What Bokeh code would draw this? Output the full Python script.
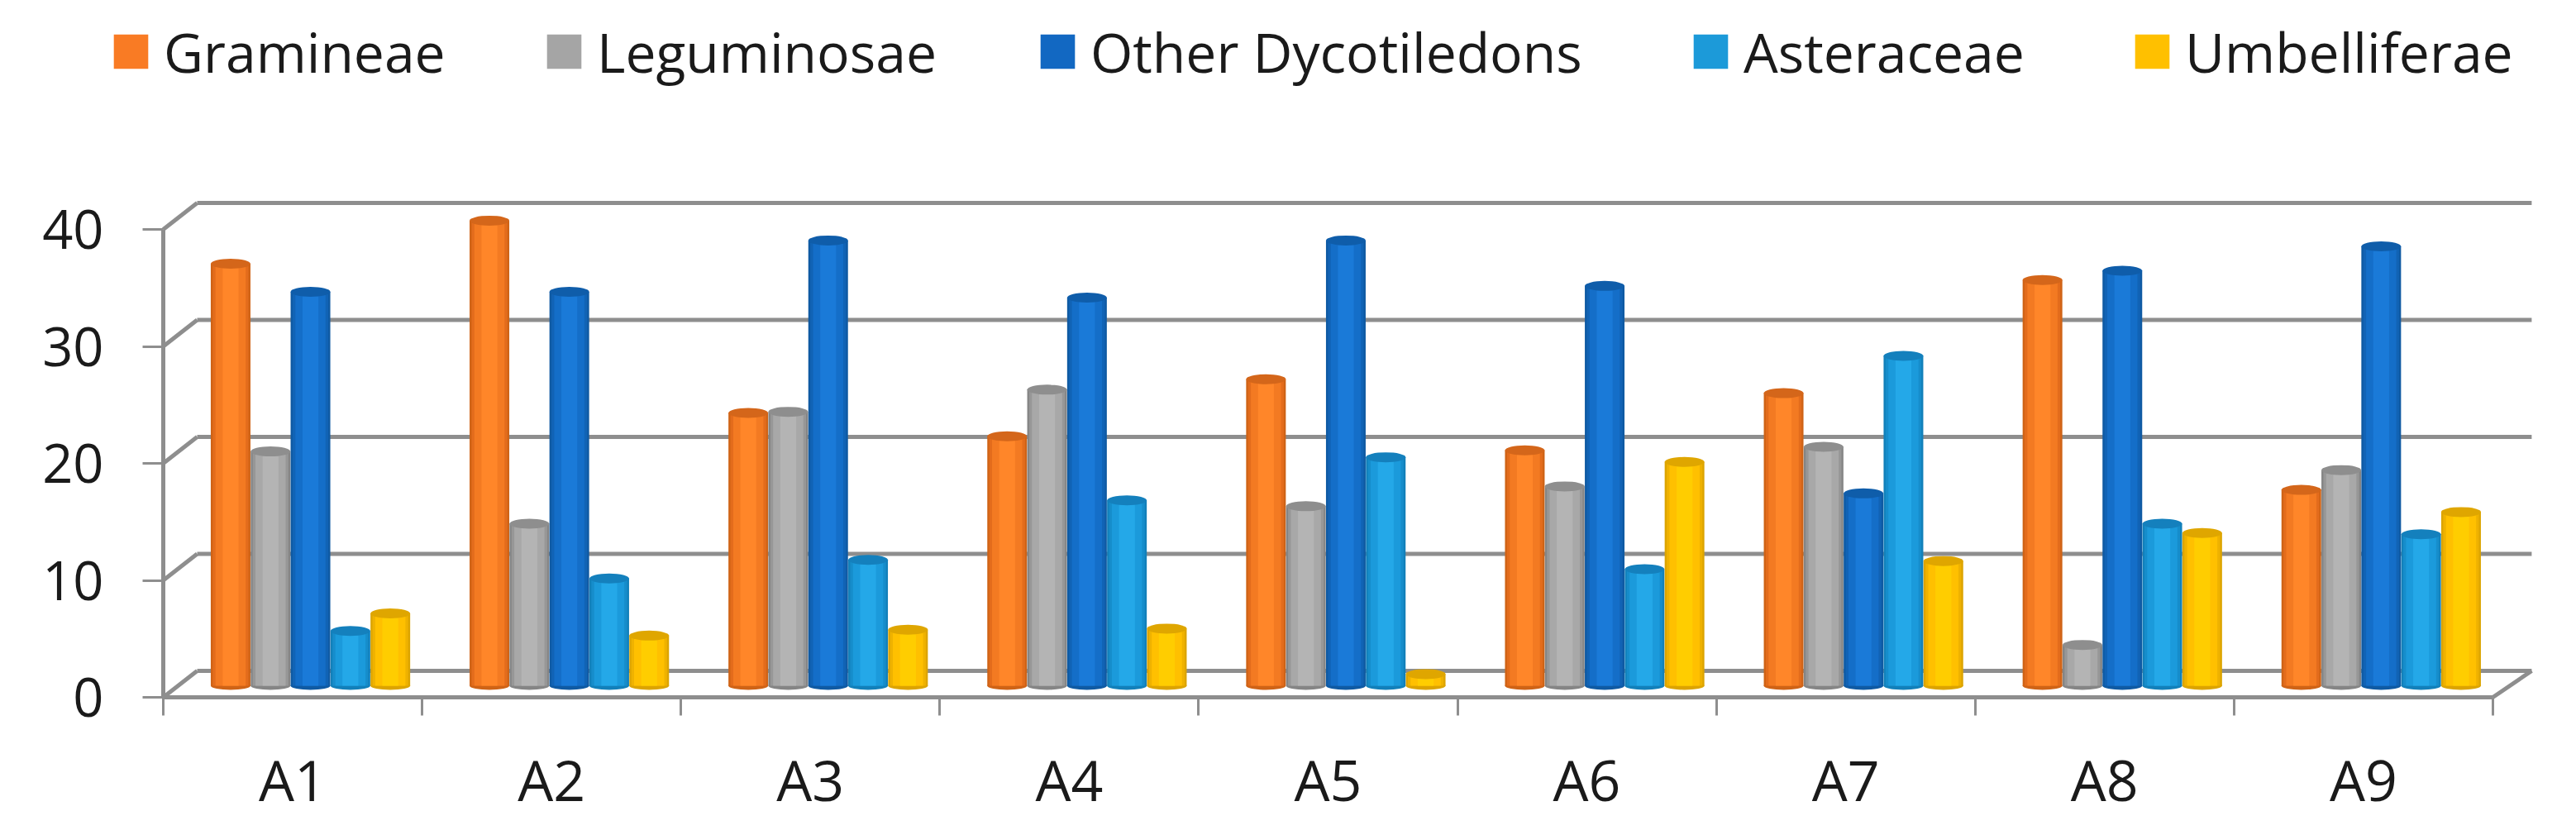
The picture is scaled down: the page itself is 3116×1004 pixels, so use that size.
from bokeh.plotting import figure
from bokeh.models import Range1d, FixedTicker, Legend, LegendItem
from bokeh.embed import file_html
from bokeh.resources import INLINE

categories = ["A1", "A2", "A3", "A4", "A5", "A6", "A7", "A8", "A9"]
gramineae = [36.2, 39.9, 23.4, 21.4, 26.3, 20.2, 25.1, 34.8, 16.8]
leguminosae = [20.1, 13.9, 23.5, 25.4, 15.4, 17.1, 20.5, 3.5, 18.5]
other_dyco = [33.8, 33.8, 38.2, 33.3, 38.2, 34.3, 16.5, 35.6, 37.7]
asteraceae = [4.7, 9.2, 10.8, 15.9, 19.6, 10.0, 28.3, 13.9, 13.0]
umbelliferae = [6.2, 4.3, 4.8, 4.9, 1.0, 19.2, 10.7, 13.1, 14.9]
series_names = ["Gramineae", "Leguminosae", "Other Dycotiledons", "Asteraceae", "Umbelliferae"]
series_values = [gramineae, leguminosae, other_dyco, asteraceae, umbelliferae]
y_ticks = [0, 10, 20, 30, 40]

# edge, soft edge, mid, centre, top-cap
shades = [
    ("#cf6316", "#e36c1c", "#f37a22", "#ff8629", "#d4661a"),
    ("#858585", "#979797", "#a8a8a8", "#b4b4b4", "#8e8e8e"),
    ("#0f5aa3", "#1163b5", "#146ec8", "#1a7ad8", "#0f5daa"),
    ("#1280ba", "#168dcb", "#1b9adb", "#24a8e8", "#1480bd"),
    ("#dca400", "#efb200", "#ffc000", "#ffcd00", "#dfa600"),
]
legend_colors = ["#f97b24", "#a5a5a5", "#1268c2", "#1c9ad9", "#ffc000"]
legend_x = [132, 656, 1253, 2043, 2577]

GRID = "#8e8e8e"
FONT = "Open Sans"
TEXT = "#1a1a1a"
PX_X = 313.1
PX_Y = 14.15
LEFT, BASE, W, H = 197, 843, 3100, 988
DX0, DX1, DY = 41 / PX_X, 47 / PX_X, 32 / PX_Y
SHIFT, STEP, BAR_W = 21.5 / PX_X, 48.3 / PX_X, 48 / PX_X

p = figure(width=W, height=H, output_backend="svg", toolbar_location=None,
           x_range=Range1d(-LEFT / PX_X, (W - LEFT) / PX_X),
           y_range=Range1d(-(H - BASE) / PX_Y, BASE / PX_Y),
           min_border=0, outline_line_color=None,
           background_fill_color="white", border_fill_color="white")
p.grid.visible = False
p.extra_y_ranges["bars"] = Range1d(-(H - (BASE - 14)) / 14.1, (BASE - 14) / 14.1)

n = len(categories)
m = len(y_ticks)
back_y = [v + DY for v in y_ticks]
p.segment([0] * m, y_ticks, [DX0] * m, back_y, line_color=GRID, line_width=5)
p.segment([DX0] * m, back_y, [n + DX1] * m, back_y, line_color=GRID, line_width=5)
p.segment([n], [0], [n + DX1], [DY], line_color=GRID, line_width=5)

for s, vals in enumerate(series_values):
    xs = [i + 0.5 + SHIFT + (s - 2) * STEP for i in range(n)]
    edge, soft, mid, centre, cap = shades[s]
    kw = dict(y_range_name="bars", line_color=None)
    p.ellipse(xs, [0] * n, width=BAR_W, height=10, height_units="screen", fill_color=edge, **kw)
    p.vbar(xs, width=BAR_W, bottom=0, top=vals, fill_color=edge, **kw)
    p.vbar(xs, width=BAR_W * 0.9, bottom=0, top=vals, fill_color=soft, **kw)
    p.vbar(xs, width=BAR_W * 0.76, bottom=0, top=vals, fill_color=mid, **kw)
    p.vbar(xs, width=BAR_W * 0.4, bottom=0, top=vals, fill_color=centre, **kw)
    p.ellipse(xs, vals, width=BAR_W, height=12, height_units="screen", fill_color=cap, **kw)

xa = p.xaxis[0]
xa.fixed_location = 0
xa.ticker = FixedTicker(ticks=[i + 0.5 for i in range(n)], minor_ticks=list(range(n + 1)))
xa.major_label_overrides = {i + 0.5: c for i, c in enumerate(categories)}
xa.bounds = (0, n)
xa.axis_line_color = GRID
xa.axis_line_width = 5
xa.major_tick_line_color = None
xa.minor_tick_line_color = GRID
xa.minor_tick_line_width = 3
xa.minor_tick_in = 0
xa.minor_tick_out = 22
xa.major_tick_in = 0
xa.major_tick_out = 22
xa.major_label_standoff = 30
xa.major_label_text_font = FONT
xa.major_label_text_font_size = "68px"
xa.major_label_text_color = TEXT

ya = p.yaxis[0]
ya.fixed_location = 0
ya.ticker = FixedTicker(ticks=y_ticks, minor_ticks=[])
ya.bounds = (0, 40)
ya.axis_line_color = GRID
ya.axis_line_width = 5
ya.major_tick_line_color = GRID
ya.major_tick_line_width = 3
ya.major_tick_in = 0
ya.major_tick_out = 25
ya.minor_tick_line_color = None
ya.major_label_standoff = 47
ya.major_label_text_font = FONT
ya.major_label_text_font_size = "65px"
ya.major_label_text_color = TEXT

for s, name in enumerate(series_names):
    r = p.vbar([0], width=0, bottom=0, top=0, fill_color=legend_colors[s], line_color=None)
    leg = Legend(items=[LegendItem(label=name, renderers=[r])], location=(legend_x[s], 881),
                 padding=0, margin=0, border_line_color=None, background_fill_alpha=0,
                 glyph_width=52, glyph_height=52, label_standoff=14, label_height=60,
                 label_text_font=FONT, label_text_font_size="66px", label_text_color=TEXT)
    p.add_layout(leg, "center")

open("out.html", "w").write(file_html(p, INLINE))
